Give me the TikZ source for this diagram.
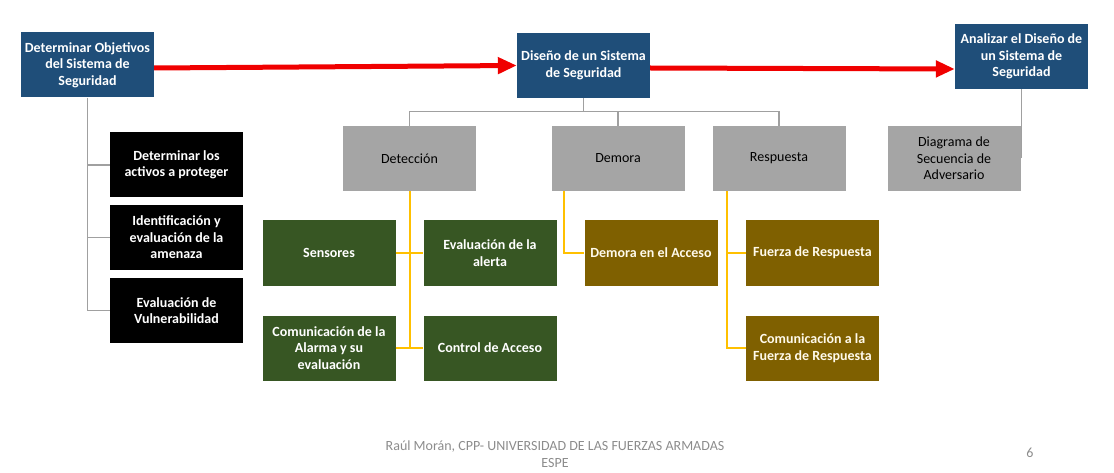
\documentclass[tikz,border=0pt]{standalone}
\usepackage{fontspec}
\setmainfont{Carlito}
\usetikzlibrary{arrows.meta,calc}
\definecolor{bluebox}{HTML}{1F4E79}
\definecolor{graybox}{HTML}{A5A5A5}
\definecolor{greenbox}{HTML}{375623}
\definecolor{olivebox}{HTML}{7F6000}
\definecolor{yline}{HTML}{FFC000}
\definecolor{gline}{HTML}{A0A0A0}
\definecolor{footgray}{HTML}{8C8C8C}
\definecolor{redarrow}{HTML}{F00000}
\tikzset{
  box/.style={minimum width=133pt, minimum height=65pt, inner sep=2pt, align=center,
    font=\bfseries\fontsize{14}{16.5}\selectfont, text=white},
  bluenode/.style={box, fill=bluebox},
  blacknode/.style={box, fill=black},
  graynode/.style={box, fill=graybox, text=black, font=\fontsize{14}{16.5}\selectfont},
  greennode/.style={box, fill=greenbox},
  olivenode/.style={box, fill=olivebox, text={rgb,255:red,255;green,250;blue,235}},
  grayline/.style={draw=gline, line width=1.1pt},
  yelline/.style={draw=yline, line width=1.5pt},
  redline/.style={draw=redarrow, line width=5pt, -{Triangle[length=19pt,width=16pt]}},
  foot/.style={font=\fontsize{14}{17}\selectfont, text=footgray, align=center}
}
\begin{document}
\begin{tikzpicture}[x=1pt,y=-1pt]
\useasboundingbox (0,0) rectangle (1114,473);
% top blue nodes
\node[bluenode] (A) at (87.5,65) {Determinar Objetivos\\del Sistema de\\Seguridad};
\node[bluenode] (B) at (583.5,65.5) {Diseño de un Sistema\\de Seguridad};
\node[bluenode] (C) at (1021.5,56.5) {Analizar el Diseño de\\un Sistema de\\Seguridad};
% black nodes
\node[blacknode] (k1) at (176.5,165) {Determinar los\\activos a proteger};
\node[blacknode] (k2) at (176.5,237.5) {Identificación y\\evaluación de la\\amenaza};
\node[blacknode] (k3) at (176.5,310.5) {Evaluación de\\Vulnerabilidad};
% gray nodes
\node[graynode] (det) at (409.5,158.5) {Detección};
\node[graynode] (dem) at (618,158.5) {Demora};
\node[graynode] (res) at (779,158.5) {Respuesta};
\node[graynode] (dia) at (954,158.5) {Diagrama de\\Secuencia de\\Adversario};
% green nodes
\node[greennode] (sen) at (329,253) {Sensores};
\node[greennode] (eva) at (490,253) {Evaluación de la\\alerta};
\node[greennode] (com) at (329,348) {Comunicación de la\\Alarma y su\\evaluación};
\node[greennode] (con) at (490,348) {Control de Acceso};
% olive nodes
\node[olivenode] (dac) at (651,253) {Demora en el Acceso};
\node[olivenode] (fue) at (812.5,253) {Fuerza de Respuesta};
\node[olivenode] (cfr) at (812.5,348) {Comunicación a la\\Fuerza de Respuesta};
% red arrows
\draw[redline] ($(A.east)+(0,3)$) -- (B.west);
\draw[redline] ($(B.east)+(0,2.5)$) -- ($(C.west)+(0,12.5)$);
% gray connectors, left
\draw[grayline] (A.south) -- (A.south |- k3.west) -- (k3.west);
\draw[grayline] (A.south |- k1.west) -- (k1.west);
\draw[grayline] (A.south |- k2.west) -- (k2.west);
% gray connectors, middle
\coordinate (bj) at ($(B.south)+(0,13)$);
\draw[grayline] (B.south) -- (bj);
\draw[grayline] (det.north) -- (det.north |- bj) -- (res.north |- bj) -- (res.north);
\draw[grayline] (dem.north |- bj) -- (dem.north);
% gray connector, right
\draw[grayline] (C.south) -- (C.south |- dia.east);
% yellow connectors, detection
\coordinate (ds) at ($(det.south)+(0.5,0)$);
\draw[yelline] (ds) -- (ds |- con.west);
\draw[yelline] (sen.east) -- (eva.west);
\draw[yelline] (com.east) -- (con.west);
% yellow connectors, delay
\coordinate (dl) at ($(dem.south west)+(12.5,0)$);
\draw[yelline] (dl) -- (dl |- dac.west) -- (dac.west);
% yellow connectors, response
\coordinate (rl) at ($(res.south west)+(14.5,0)$);
\draw[yelline] (rl) -- (rl |- cfr.west) -- (cfr.west);
\draw[yelline] (rl |- fue.west) -- (fue.west);
% footer
\node[foot] (ft) at (555,454) {Raúl Morán, CPP- UNIVERSIDAD DE LAS FUERZAS ARMADAS\\ESPE};
\node[foot] (pg) at (1030,453) {6};
\end{tikzpicture}
\end{document}
